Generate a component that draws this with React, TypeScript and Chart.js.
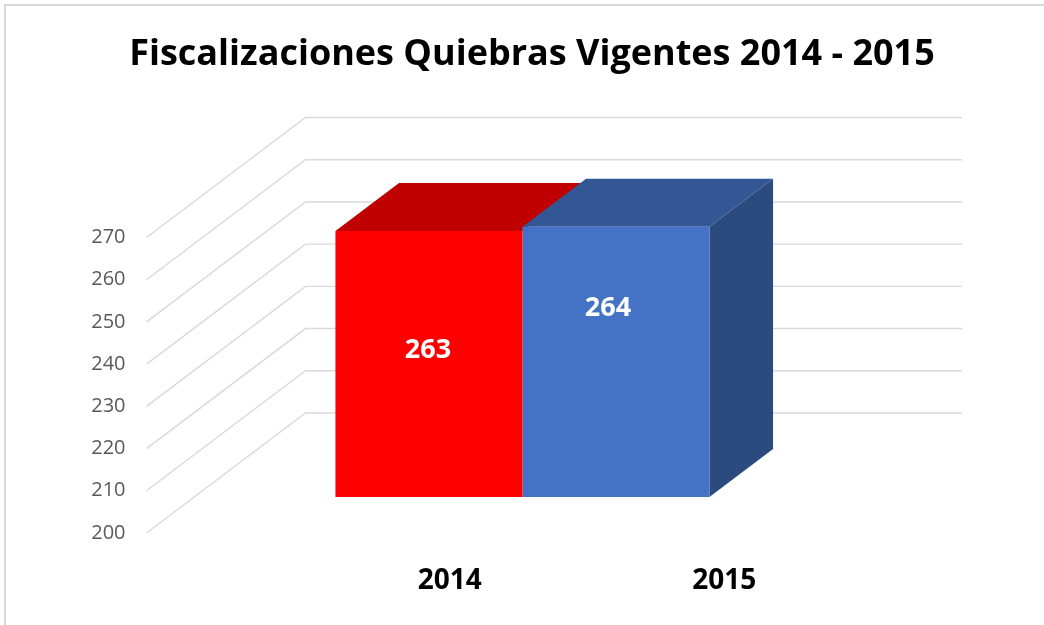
import React, { useEffect, useRef } from "react";
import { Chart, registerables } from "chart.js";

Chart.register(...registerables);

// ---- data ----
const chartTitle = "Fiscalizaciones Quiebras Vigentes 2014 - 2015";
const years = ["2014", "2015"];
const values = [263, 264];
const yMin = 200;
const yMax = 270;
const yStep = 10;

// ---- styles ----
const frontColors = ["#FF0000", "#4472C4"];
const topColors = ["#C00000", "#335795"];
const sideColors = ["#A00000", "#2B4A7E"];
const FONT = "'Open Sans', 'DejaVu Sans', sans-serif";

// depth vector from front plane to back wall
const DEPTH_X = 159;
const DEPTH_Y = -120;
const BAR_FRONT = 0.3; // fraction of depth where bar front sits
const BAR_DEPTH = 0.4; // fraction of depth the bar occupies

const threeDPlugin = {
  id: "threeD",
  beforeDraw(chart: any) {
    const { ctx, chartArea } = chart;
    const yScale = chart.scales.y;
    ctx.save();
    ctx.strokeStyle = "#D9D9D9";
    ctx.lineWidth = 2;
    ctx.strokeRect(5, 5, 3000, 3000);
    ctx.lineWidth = 1.4;
    yScale.ticks.forEach((t: any) => {
      const y = yScale.getPixelForValue(t.value);
      ctx.beginPath();
      ctx.moveTo(chartArea.left, y);
      ctx.lineTo(chartArea.left + DEPTH_X, y + DEPTH_Y);
      ctx.lineTo(chartArea.right + DEPTH_X, y + DEPTH_Y);
      ctx.stroke();
    });
    ctx.restore();
  },
  beforeDatasetsDraw(chart: any) {
    const { ctx } = chart;
    const fx = DEPTH_X * BAR_FRONT;
    const fy = DEPTH_Y * BAR_FRONT;
    const dx = DEPTH_X * BAR_DEPTH;
    const dy = DEPTH_Y * BAR_DEPTH;
    const n = chart.data.datasets.length;
    chart.data.datasets.forEach((_ds: any, i: number) => {
      chart.getDatasetMeta(i).data.forEach((el: any) => {
        const L = el.x - el.width / 2 + fx;
        const R = el.x + el.width / 2 + fx;
        const T = el.y + fy;
        const B = el.base + fy;
        ctx.save();
        if (i === n - 1) {
          // only the rightmost bar shows its side face
          ctx.fillStyle = sideColors[i];
          ctx.beginPath();
          ctx.moveTo(R, T);
          ctx.lineTo(R + dx, T + dy);
          ctx.lineTo(R + dx, B + dy);
          ctx.lineTo(R, B);
          ctx.closePath();
          ctx.fill();
        }
        ctx.fillStyle = topColors[i];
        ctx.beginPath();
        ctx.moveTo(L, T);
        ctx.lineTo(R, T);
        ctx.lineTo(R + dx, T + dy);
        ctx.lineTo(L + dx, T + dy);
        ctx.closePath();
        ctx.fill();
        ctx.restore();
      });
    });
  },
  beforeDatasetDraw(chart: any) {
    const { ctx } = chart;
    ctx.save();
    ctx.translate(DEPTH_X * BAR_FRONT, DEPTH_Y * BAR_FRONT);
  },
  afterDatasetDraw(chart: any) {
    chart.ctx.restore();
  },
  afterDatasetsDraw(chart: any) {
    const { ctx, chartArea } = chart;
    const fx = DEPTH_X * BAR_FRONT;
    const fy = DEPTH_Y * BAR_FRONT;
    const labelShiftX = [-1, -8];
    const labelDrop = [119, 81];
    ctx.save();
    ctx.textAlign = "center";
    ctx.textBaseline = "middle";
    ctx.fillStyle = "#FFFFFF";
    ctx.font = `bold 27px ${FONT}`;
    chart.data.datasets.forEach((ds: any, i: number) => {
      const el = chart.getDatasetMeta(i).data[0];
      ctx.fillText(String(ds.data[0]), el.x + fx + labelShiftX[i], el.y + fy + labelDrop[i]);
    });
    const labelFrac = [0.462, 0.88];
    ctx.fillStyle = "#000000";
    ctx.font = `bold 28px ${FONT}`;
    years.forEach((yr, i) => {
      const x = chartArea.left + (chartArea.right - chartArea.left) * labelFrac[i];
      ctx.fillText(yr, x, chartArea.bottom + 48);
    });
    ctx.restore();
  },
};

export default function App() {
  const ref = useRef<HTMLCanvasElement>(null);
  useEffect(() => {
    document.body.style.margin = "0";
    const chart = new Chart(ref.current as HTMLCanvasElement, {
      type: "bar",
      data: {
        labels: [""],
        datasets: years.map((yr, i) => ({
          label: yr,
          data: [values[i]],
          base: yMin,
          backgroundColor: frontColors[i],
          borderWidth: 0,
          clip: false as any,
        })),
      },
      options: {
        animation: false,
        responsive: true,
        maintainAspectRatio: false,
        layout: { padding: { left: 20, right: 0, top: 0, bottom: 92 } },
        datasets: { bar: { categoryPercentage: 0.5697, barPercentage: 1 } },
        plugins: {
          legend: { display: false },
          tooltip: { enabled: false },
          title: {
            display: true,
            text: chartTitle,
            color: "#000000",
            font: { family: FONT, size: 36, weight: "bold" },
            padding: { top: 33, bottom: 161.3 },
          },
        },
        scales: {
          x: { display: false },
          y: {
            min: yMin,
            max: yMax,
            afterFit: (s: any) => {
              s.width = 126.5;
            },
            grid: { display: false, drawTicks: false },
            border: { display: false },
            ticks: {
              stepSize: yStep,
              padding: 21,
              color: "#595959",
              font: { family: FONT, size: 20 },
            },
          },
          yRight: {
            position: "right",
            display: true,
            min: yMin,
            max: yMax,
            afterFit: (s: any) => {
              s.width = 241;
            },
            grid: { display: false, drawTicks: false },
            border: { display: false },
            ticks: { display: false },
          },
        },
      },
      plugins: [threeDPlugin],
    });
    return () => chart.destroy();
  }, []);
  return (
    <div style={{ width: 1044, height: 625, position: "relative" }}>
      <canvas ref={ref} />
    </div>
  );
}
